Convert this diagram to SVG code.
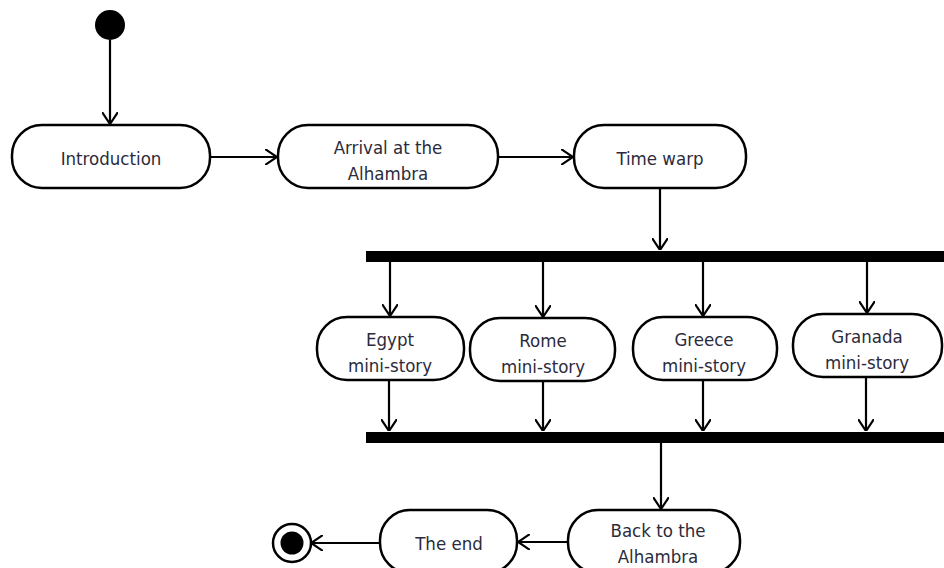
<svg xmlns="http://www.w3.org/2000/svg" width="944" height="568" viewBox="0 0 944 568">
  <style>
    .act rect { fill: #ffffff; stroke: #000000; stroke-width: 2.5; }
    .act text { font-family: "DejaVu Sans Condensed", "DejaVu Sans", "Liberation Sans", sans-serif; font-stretch: condensed; font-size: 18.5px; fill: #2b2b3b; text-anchor: middle; }
    .flow line { stroke: #000000; stroke-width: 2.2; fill: none; marker-end: url(#open); }
    .bar { fill: #000000; }
  </style>
  <defs>
    <marker id="open" viewBox="0 0 12 16" refX="12" refY="8" markerWidth="12" markerHeight="16" markerUnits="userSpaceOnUse" orient="auto">
      <path d="M0,0 L12,8 L0,16" fill="none" stroke="#000000" stroke-width="2.2"/>
    </marker>
  </defs>

  <!-- start / end markers -->
  <g id="start"><circle cx="110" cy="25" r="15" fill="#000000"/></g>
  <g id="final">
    <circle cx="292" cy="543" r="19" fill="#ffffff" stroke="#000000" stroke-width="2.5"/>
    <circle cx="292" cy="543" r="11.5" fill="#000000"/>
  </g>

  <!-- fork and join bars -->
  <g id="fork"><rect class="bar" x="366" y="251" width="578" height="11"/></g>
  <g id="join"><rect class="bar" x="366" y="432" width="578" height="11"/></g>

  <!-- activities -->
  <g id="introduction" class="act">
    <rect x="12" y="125" width="198" height="63" rx="30" ry="30"/>
    <text x="111" y="165">Introduction</text>
  </g>
  <g id="arrival" class="act">
    <rect x="278" y="125" width="220" height="63" rx="30" ry="30"/>
    <text x="388" y="154">Arrival at the</text>
    <text x="388" y="180">Alhambra</text>
  </g>
  <g id="timewarp" class="act">
    <rect x="574" y="125" width="172" height="63" rx="30" ry="30"/>
    <text x="660" y="165">Time warp</text>
  </g>
  <g id="egypt" class="act">
    <rect x="317" y="317" width="147" height="63" rx="30" ry="30"/>
    <text x="390" y="346">Egypt</text>
    <text x="390" y="372">mini-story</text>
  </g>
  <g id="rome" class="act">
    <rect x="470" y="318" width="145" height="63" rx="30" ry="30"/>
    <text x="543" y="347">Rome</text>
    <text x="543" y="373">mini-story</text>
  </g>
  <g id="greece" class="act">
    <rect x="633" y="317" width="144" height="63" rx="30" ry="30"/>
    <text x="704" y="346">Greece</text>
    <text x="704" y="372">mini-story</text>
  </g>
  <g id="granada" class="act">
    <rect x="793" y="314" width="149" height="63" rx="30" ry="30"/>
    <text x="867" y="343">Granada</text>
    <text x="867" y="369">mini-story</text>
  </g>
  <g id="back" class="act">
    <rect x="568" y="510" width="172" height="63" rx="30" ry="30"/>
    <text x="658" y="537">Back to the</text>
    <text x="658" y="563">Alhambra</text>
  </g>
  <g id="theend" class="act">
    <rect x="380" y="510" width="137" height="63" rx="30" ry="30"/>
    <text x="449" y="550">The end</text>
  </g>

  <!-- control flows -->
  <g id="flows" class="flow">
    <line x1="110" y1="40" x2="110" y2="124"/>
    <line x1="210" y1="157" x2="277" y2="157"/>
    <line x1="498" y1="157" x2="573" y2="157"/>
    <line x1="660" y1="188" x2="660" y2="250"/>
    <line x1="390" y1="262" x2="390" y2="316"/>
    <line x1="543" y1="262" x2="543" y2="317"/>
    <line x1="703" y1="262" x2="703" y2="316"/>
    <line x1="867" y1="262" x2="867" y2="313"/>
    <line x1="389" y1="380" x2="389" y2="431"/>
    <line x1="543" y1="381" x2="543" y2="431"/>
    <line x1="703" y1="380" x2="703" y2="431"/>
    <line x1="866" y1="377" x2="866" y2="431"/>
    <line x1="661" y1="443" x2="661" y2="509"/>
    <line x1="568" y1="542" x2="518" y2="542"/>
    <line x1="380" y1="543" x2="311" y2="543"/>
  </g>
</svg>
